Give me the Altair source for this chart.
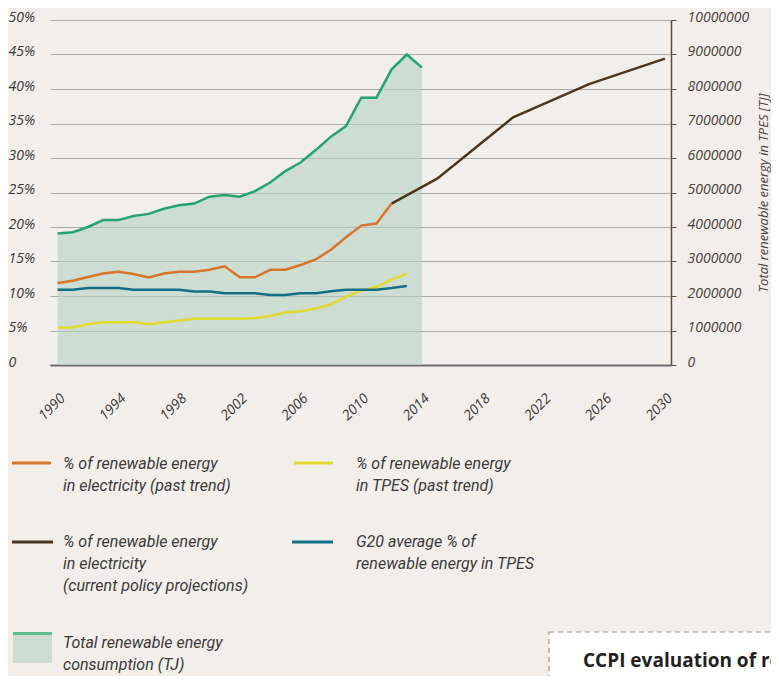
import altair as alt
import pandas as pd

# ---------------- data ----------------
years_past = list(range(1990, 2014))          # 1990..2013
years_elec = list(range(1990, 2013))          # 1990..2012
years_total = list(range(1990, 2015))         # 1990..2014

elec_past = [11.9, 12.2, 12.75, 13.25, 13.5, 13.2, 12.7, 13.25, 13.5, 13.5, 13.8, 14.3,
             12.7, 12.7, 13.8, 13.8, 14.5, 15.3, 16.7, 18.5, 20.2, 20.5, 23.4]
tpes_past = [5.45, 5.45, 5.9, 6.2, 6.2, 6.2, 5.9, 6.2, 6.45, 6.7, 6.7, 6.7,
             6.7, 6.8, 7.1, 7.6, 7.8, 8.2, 8.8, 9.9, 10.8, 11.3, 12.4, 13.2]
g20_avg = [10.9, 10.9, 11.15, 11.15, 11.15, 10.9, 10.9, 10.9, 10.9, 10.65, 10.65, 10.4,
           10.4, 10.4, 10.15, 10.15, 10.4, 10.4, 10.7, 10.9, 10.9, 10.9, 11.15, 11.45]
total_tj = [3810000, 3850000, 4000000, 4200000, 4200000, 4320000, 4380000, 4530000,
            4630000, 4680000, 4880000, 4930000, 4880000, 5040000, 5290000, 5620000,
            5870000, 6230000, 6620000, 6930000, 7750000, 7750000, 8570000, 9000000, 8620000]
proj_years = [2012, 2015, 2020, 2025, 2030]
elec_proj = [23.4, 27.0, 35.9, 40.7, 44.4]

x_ticks = list(range(1990, 2031, 4))
pct_ticks = list(range(0, 51, 5))
tj_ticks = list(range(0, 10000001, 1000000))

# ---------------- style ----------------
BG = "#f2efea"
ORANGE = "#d9742b"
YELLOW = "#e2d92e"
TEAL = "#146f86"
BROWN = "#4b3620"
GREEN = "#23a56d"
AREA = "#b4d1bf"
LABEL_C = "#3a3a3a"
AXIS_FONT = "Open Sans"
LEG_FONT = "Roboto"

df_elec = pd.DataFrame({"year": years_elec, "v": elec_past})
df_tpes = pd.DataFrame({"year": years_past, "v": tpes_past})
df_g20 = pd.DataFrame({"year": years_past, "v": g20_avg})
df_proj = pd.DataFrame({"year": proj_years, "v": elec_proj})
df_tot = pd.DataFrame({"year": years_total, "tj": total_tj})

X = alt.X(
    "year:Q",
    scale=alt.Scale(domain=[1989.5, 2030.4], nice=False, zero=False),
    axis=alt.Axis(values=x_ticks, format="d", labelAngle=315, labelAlign="right",
                  labelBaseline="top", labelPadding=26, ticks=False, tickSize=0,
                  domainColor="#6d6d6d", domainWidth=2, grid=False, title=None,
                  labelFont=AXIS_FONT, labelFontStyle="italic", labelFontSize=14,
                  labelColor=LABEL_C),
)

Y_left = alt.Y(
    "v:Q",
    scale=alt.Scale(domain=[0, 50], nice=False),
    axis=alt.Axis(orient="left", values=pct_ticks,
                  labelExpr="datum.value == 0 ? '0' : datum.value + '%'",
                  labelAlign="left", labelPadding=42, ticks=False, tickSize=0,
                  domain=False, grid=True, gridColor="#a9a9a9", gridWidth=1,
                  labelOffset=-3, title=None, labelFont=AXIS_FONT,
                  labelFontStyle="italic", labelFontSize=14, labelColor=LABEL_C),
)

Y_right = alt.Y(
    "tj:Q",
    scale=alt.Scale(domain=[0, 10000000], nice=False),
    axis=alt.Axis(orient="right", values=tj_ticks, format="d", grid=False,
                  domainColor="#5b4a36", domainWidth=1.5, tickColor="#5b4a36",
                  tickSize=5, labelPadding=11, labelOffset=-3,
                  labelFont=AXIS_FONT, labelFontStyle="italic", labelFontSize=14,
                  labelColor="#4a4038",
                  title="Total renewable energy in TPES [TJ]", titleAngle=270,
                  titleX=92, titleY=172.5, titleAlign="center", titleBaseline="middle",
                  titleFont=AXIS_FONT, titleFontStyle="italic", titleFontWeight="normal",
                  titleFontSize=13, titleColor="#4a4038"),
)

area = alt.Chart(df_tot).mark_area(color=AREA, opacity=0.6).encode(x=X, y=Y_right)
gline = alt.Chart(df_tot).mark_line(color=GREEN, strokeWidth=2.5).encode(x=X, y=Y_right)
right = alt.layer(area, gline)

def series(df, color):
    return alt.Chart(df).mark_line(color=color, strokeWidth=2.5).encode(x=X, y=Y_left)

left = alt.layer(series(df_elec, ORANGE), series(df_tpes, YELLOW),
                 series(df_g20, TEAL), series(df_proj, BROWN))

main = alt.layer(right, left).resolve_scale(y="independent")

# ---------------- legend ----------------
one = alt.Data(values=[{"a": 1}])

def leg_rule(x1, x2, y, color, w=3):
    return alt.Chart(one).mark_rule(color=color, strokeWidth=w).encode(
        x=alt.value(x1), x2=alt.value(x2), y=alt.value(y))

def leg_text(x, y, txt):
    return alt.Chart(one).mark_text(
        align="left", baseline="alphabetic", lineBreak="\n", lineHeight=22,
        font=LEG_FONT, fontStyle="italic", fontSize=16, color=LABEL_C
    ).encode(x=alt.value(x), y=alt.value(y), text=alt.value(txt))

legend_layers = [
    leg_rule(-38, 1, 443, ORANGE),
    leg_text(13, 449, "% of renewable energy\nin electricity (past trend)"),
    leg_rule(244, 283, 443, YELLOW),
    leg_text(306, 449, "% of renewable energy\nin TPES (past trend)"),
    leg_rule(-38, 3, 522, BROWN),
    leg_text(13, 527, "% of renewable energy\nin electricity\n(current policy projections)"),
    leg_rule(242, 283, 522, TEAL),
    leg_text(306, 527, "G20 average % of\nrenewable energy in TPES"),
    alt.Chart(one).mark_rect(color=AREA, opacity=0.6).encode(
        x=alt.value(-37), x2=alt.value(2), y=alt.value(612), y2=alt.value(643)),
    leg_rule(-37, 2, 613.5, "#5cc08e"),
    leg_text(13, 628, "Total renewable energy\nconsumption (TJ)"),
    alt.Chart(one).mark_rect(fill="white", stroke="#a39484", strokeDash=[5, 4],
                             strokeWidth=1.2).encode(
        x=alt.value(499), x2=alt.value(820), y=alt.value(612), y2=alt.value(720)),
    alt.Chart(one).mark_text(align="left", baseline="middle", font=AXIS_FONT,
                             fontWeight="bold", fontSize=19, color="#231f20").encode(
        x=alt.value(533), y=alt.value(641),
        text=alt.value("CCPI evaluation of renewable energy")),
]

chart = alt.layer(main, *legend_layers).properties(
    width=621, height=345,
    padding={"left": 42, "top": 12, "right": 100, "bottom": 311},
    autosize=alt.AutoSizeParams(type="none"),
    background=BG,
).configure_view(stroke=None)

chart.save("out.html", embed_options={"renderer": "svg", "actions": False})
